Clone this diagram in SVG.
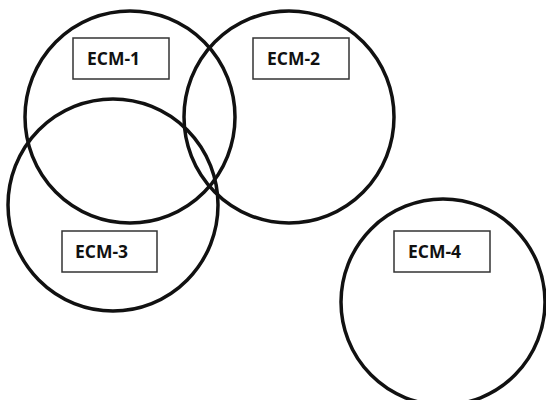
<svg xmlns="http://www.w3.org/2000/svg" width="546" height="400" viewBox="0 0 546 400">
  <style>
    .ring { fill: none; stroke: #111; stroke-width: 3.5; }
    .tag rect { fill: #fff; stroke: #333; stroke-width: 1.5; }
    .tag text { font-family: "Open Sans", "Liberation Sans", sans-serif; font-weight: bold; font-size: 17.5px; fill: #111; }
  </style>
  <rect width="546" height="400" fill="#fff"/>
  <g id="ecm-1">
    <ellipse class="ring" cx="130" cy="117" rx="105" ry="106"/>
    <g class="tag"><rect x="73" y="38" width="96" height="41"/><text x="87" y="64.5">ECM-1</text></g>
  </g>
  <g id="ecm-2">
    <ellipse class="ring" cx="289" cy="117" rx="105" ry="106"/>
    <g class="tag"><rect x="253" y="38" width="96" height="41"/><text x="267" y="64.5">ECM-2</text></g>
  </g>
  <g id="ecm-3">
    <ellipse class="ring" cx="113" cy="205" rx="105" ry="106"/>
    <g class="tag"><rect x="62" y="231" width="95" height="41"/><text x="75" y="257.5">ECM-3</text></g>
  </g>
  <g id="ecm-4">
    <ellipse class="ring" cx="443" cy="302" rx="102" ry="103"/>
    <g class="tag"><rect x="394" y="231" width="96" height="41"/><text x="408" y="257.5">ECM-4</text></g>
  </g>
  <g id="connectors"/>
</svg>
